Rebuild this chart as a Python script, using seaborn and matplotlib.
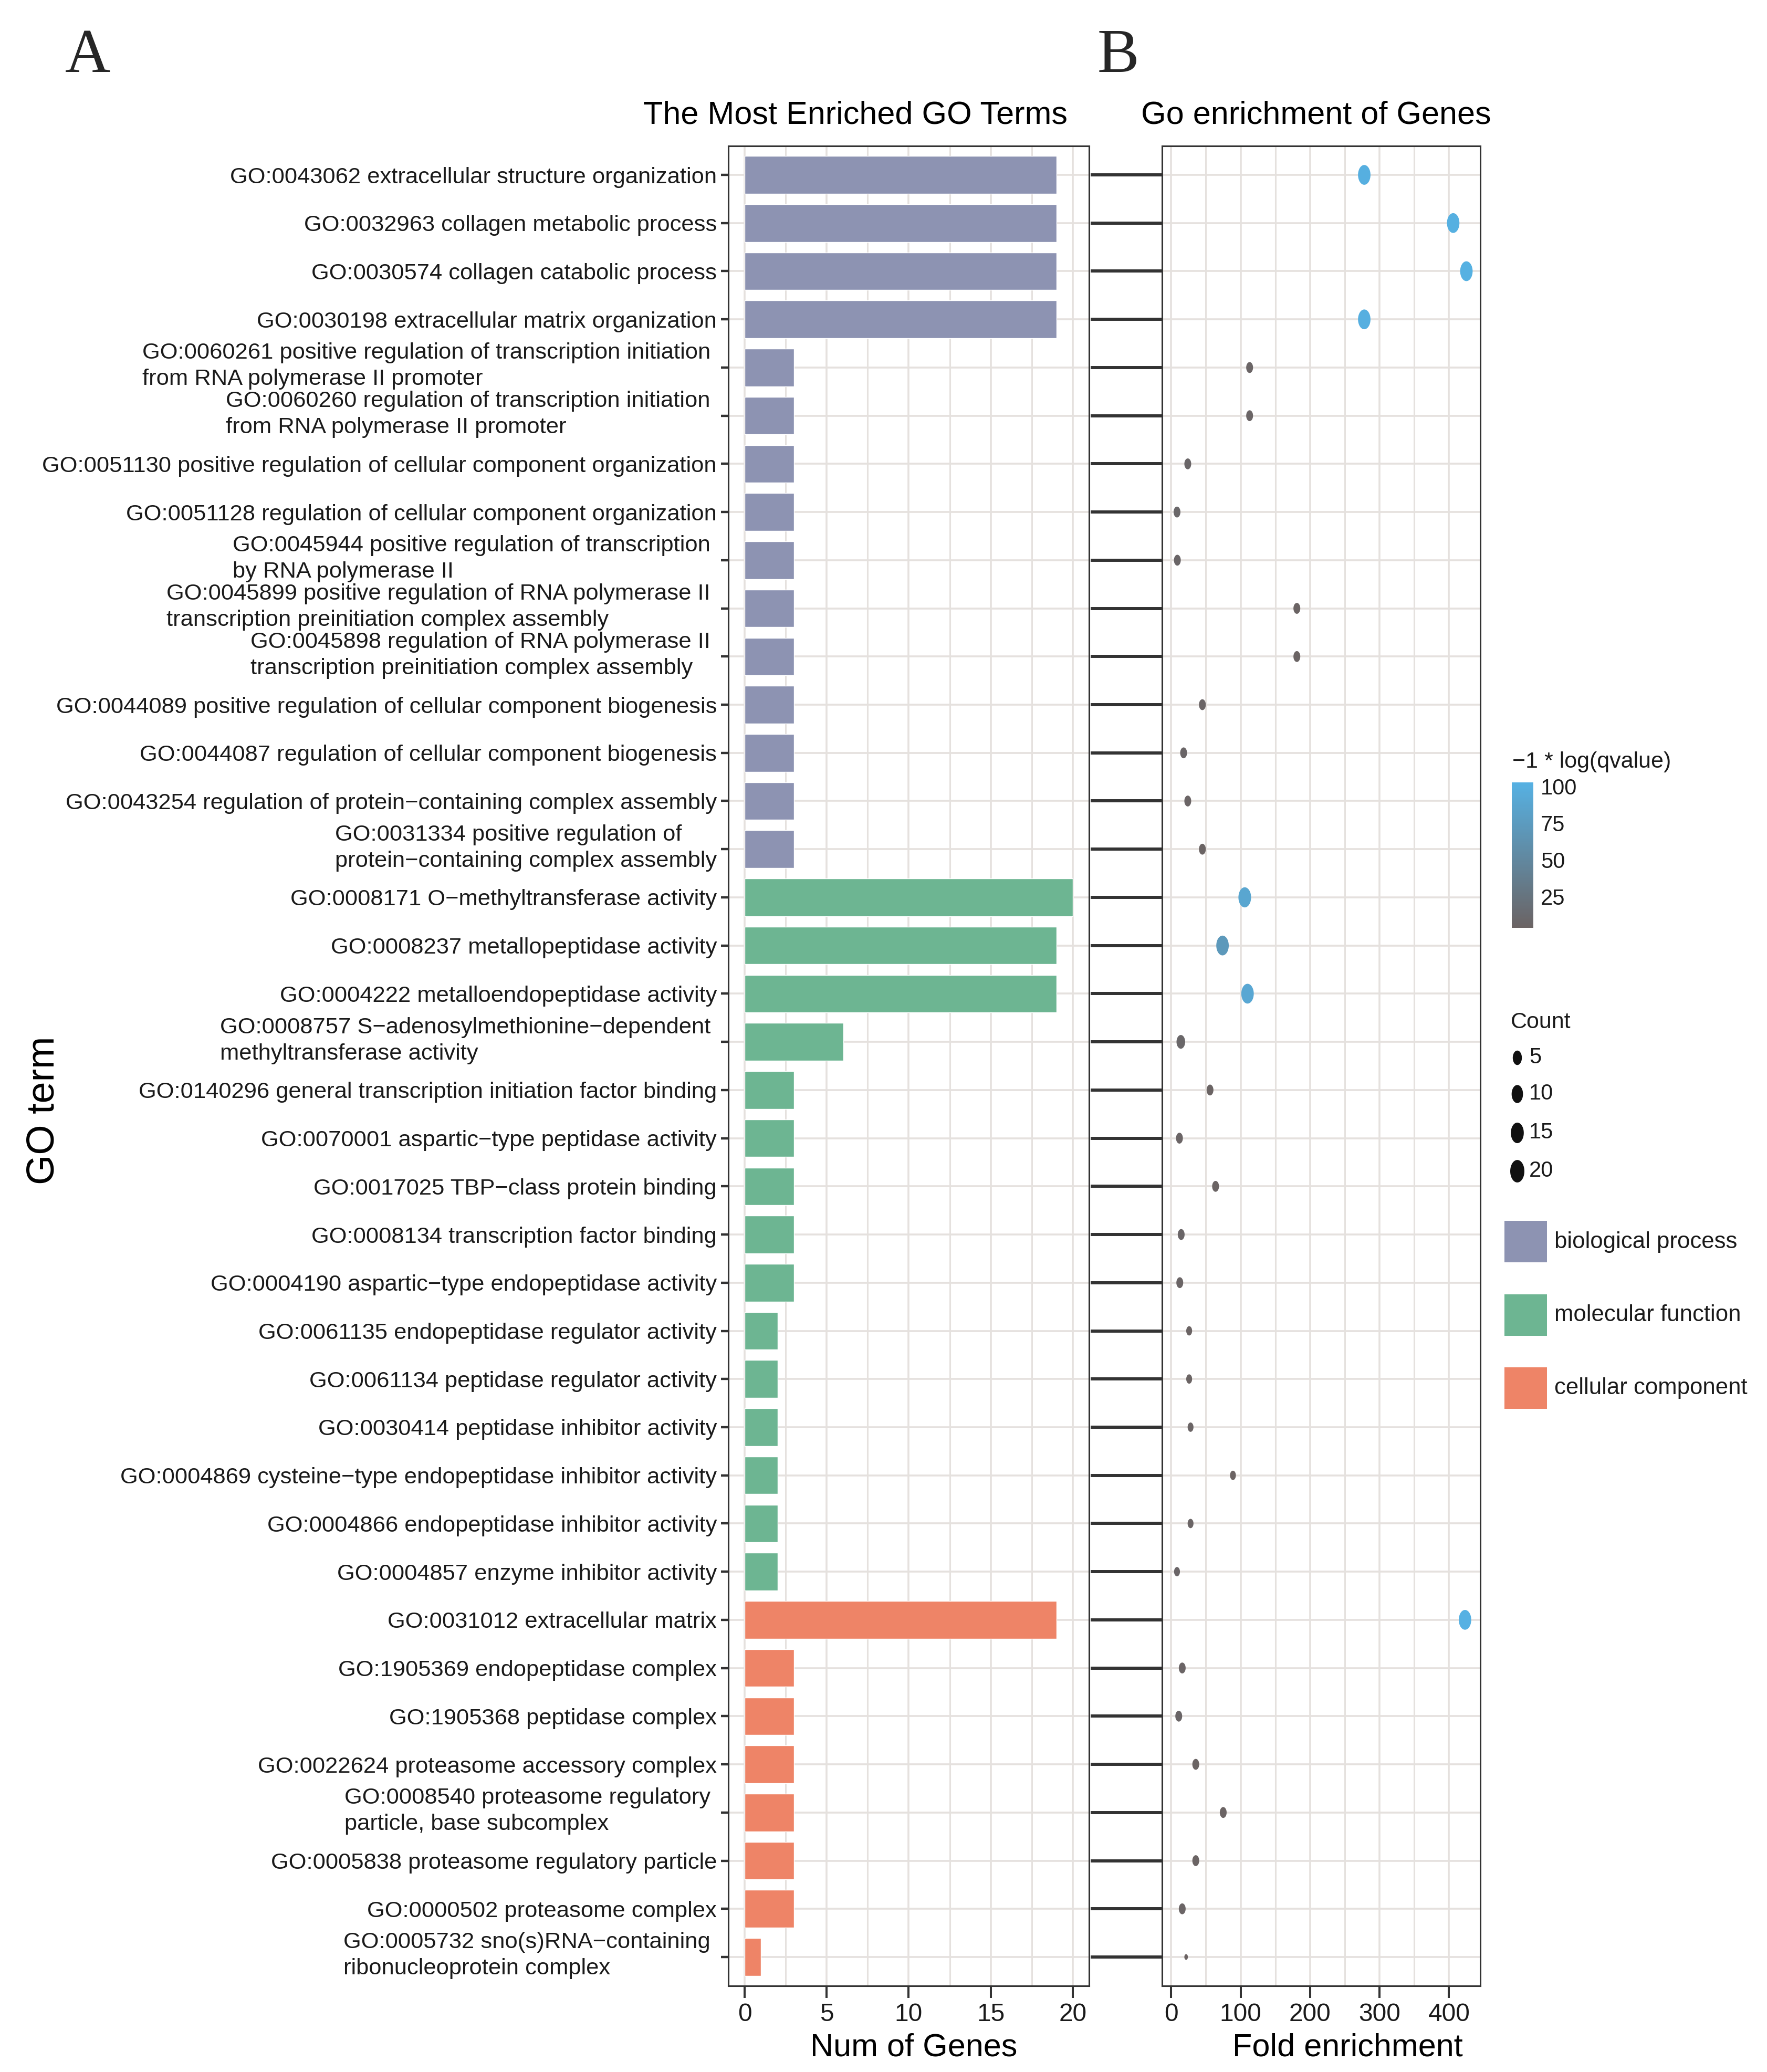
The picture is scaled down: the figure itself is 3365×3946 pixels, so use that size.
import numpy as np
import pandas as pd
import matplotlib
matplotlib.use('Agg')
import matplotlib as mpl
import matplotlib.pyplot as plt
import matplotlib.transforms as mtransforms
import seaborn as sns
from matplotlib.colors import LinearSegmentedColormap, Normalize, PowerNorm
from matplotlib.path import Path
from matplotlib.patches import Rectangle

# GO terms, top to bottom
terms = [
    'GO:0043062 extracellular structure organization',
    'GO:0032963 collagen metabolic process',
    'GO:0030574 collagen catabolic process',
    'GO:0030198 extracellular matrix organization',
    'GO:0060261 positive regulation of transcription initiation \nfrom RNA polymerase II promoter',
    'GO:0060260 regulation of transcription initiation \nfrom RNA polymerase II promoter',
    'GO:0051130 positive regulation of cellular component organization',
    'GO:0051128 regulation of cellular component organization',
    'GO:0045944 positive regulation of transcription \nby RNA polymerase II',
    'GO:0045899 positive regulation of RNA polymerase II \ntranscription preinitiation complex assembly',
    'GO:0045898 regulation of RNA polymerase II \ntranscription preinitiation complex assembly',
    'GO:0044089 positive regulation of cellular component biogenesis',
    'GO:0044087 regulation of cellular component biogenesis',
    'GO:0043254 regulation of protein\u2212containing complex assembly',
    'GO:0031334 positive regulation of \nprotein\u2212containing complex assembly',
    'GO:0008171 O\u2212methyltransferase activity',
    'GO:0008237 metallopeptidase activity',
    'GO:0004222 metalloendopeptidase activity',
    'GO:0008757 S\u2212adenosylmethionine\u2212dependent \nmethyltransferase activity',
    'GO:0140296 general transcription initiation factor binding',
    'GO:0070001 aspartic\u2212type peptidase activity',
    'GO:0017025 TBP\u2212class protein binding',
    'GO:0008134 transcription factor binding',
    'GO:0004190 aspartic\u2212type endopeptidase activity',
    'GO:0061135 endopeptidase regulator activity',
    'GO:0061134 peptidase regulator activity',
    'GO:0030414 peptidase inhibitor activity',
    'GO:0004869 cysteine\u2212type endopeptidase inhibitor activity',
    'GO:0004866 endopeptidase inhibitor activity',
    'GO:0004857 enzyme inhibitor activity',
    'GO:0031012 extracellular matrix',
    'GO:1905369 endopeptidase complex',
    'GO:1905368 peptidase complex',
    'GO:0022624 proteasome accessory complex',
    'GO:0008540 proteasome regulatory \nparticle, base subcomplex',
    'GO:0005838 proteasome regulatory particle',
    'GO:0000502 proteasome complex',
    'GO:0005732 sno(s)RNA\u2212containing \nribonucleoprotein complex',
]

ontology = [
    'BP', 'BP', 'BP', 'BP', 'BP', 'BP', 'BP', 'BP', 'BP', 'BP', 'BP', 'BP', 'BP', 'BP', 'BP',
    'MF', 'MF', 'MF', 'MF', 'MF', 'MF', 'MF', 'MF', 'MF', 'MF', 'MF', 'MF', 'MF', 'MF', 'MF',
    'CC', 'CC', 'CC', 'CC', 'CC', 'CC', 'CC', 'CC',
]

num_genes = [19, 19, 19, 19, 3, 3, 3, 3, 3, 3, 3, 3, 3, 3, 3,
             20, 19, 19, 6, 3, 3, 3, 3, 3, 2, 2, 2, 2, 2, 2,
             19, 3, 3, 3, 3, 3, 3, 1]

fold_enrichment = [278, 406, 425, 278, 113, 113, 24, 8.5, 9, 181, 181, 45, 18, 24, 45,
                   106, 74, 110, 14, 56, 12, 64, 14.5, 12.5, 26, 26, 28, 89, 28, 8.5,
                   423, 16, 11, 35.5, 75, 35.5, 16, 21.6]

neg_log_q = [100, 101, 102, 100, 6, 6, 8, 9, 7, 5, 5, 6, 7, 6, 5,
             88, 72, 90, 9, 5, 6, 5, 7, 6, 5, 5, 6, 4, 6, 7,
             102.5, 6, 7, 5, 5, 5, 6, 4]

ont_names = {'BP': 'biological process', 'MF': 'molecular function', 'CC': 'cellular component'}
ont_colors = {'biological process': '#8D93B2', 'molecular function': '#6DB592',
              'cellular component': '#EE8467'}

df = pd.DataFrame({'term': terms, 'ontology': [ont_names[o] for o in ontology],
                   'genes': num_genes, 'fold': fold_enrichment, 'qval': neg_log_q})

W, H = 3366, 3946


def rect(l, t, r, b):
    return [l / W, 1 - b / H, (r - l) / W, (b - t) / H]


sns.set_style('white')
plt.rcParams['font.family'] = ['Liberation Sans', 'DejaVu Sans']

fig = plt.figure(figsize=(W / 100, H / 100), dpi=100)
axA = fig.add_axes(rect(1387, 278, 2074, 3782))
axB = fig.add_axes(rect(2213, 278, 2819, 3782))

grid_col = '#E5E1DE'
edge_col = '#333333'
txt_col = '#1a1a1a'

# Panel A: bar chart
sns.barplot(data=df, x='genes', y='term', hue='ontology', palette=ont_colors,
            dodge=False, width=0.78, saturation=1, errorbar=None, legend=False, ax=axA)
axA.set_xlim(-1, 21)
axA.set_ylim(len(terms) - 0.4, -0.6)
axA.set_xticks([0, 5, 10, 15, 20])
axA.set_xticks([2.5, 7.5, 12.5, 17.5], minor=True)

# Panel B: dot plot (ellipse markers, size scaled like ggplot's area scale)
cmap = LinearSegmentedColormap.from_list('q', ['#6B6363', '#56B1E3'])
qnorm = Normalize(4, 102.5)
snorm = PowerNorm(gamma=0.65, vmin=1, vmax=20)
theta = np.linspace(0, 2 * np.pi, 80)
ellipse = Path(np.column_stack([0.63 * np.sin(theta), np.cos(theta)]))
s_lo, s_hi = 60, 760
sns.scatterplot(data=df, x='fold', y='term', hue='qval', palette=cmap, hue_norm=qnorm,
                size='genes', sizes=(s_lo, s_hi), size_norm=snorm, marker=ellipse,
                linewidth=0, legend=False, ax=axB, zorder=3)
axB.set_xlim(-13, 445)
axB.set_ylim(len(terms) - 0.4, -0.6)
axB.set_xticks([0, 100, 200, 300, 400])
axB.set_xticks([50, 150, 250, 350], minor=True)
axB.set_yticks(range(len(terms)))
axB.set_yticklabels([])

for ax in (axA, axB):
    ax.set_axisbelow(True)
    ax.grid(which='major', axis='both', color=grid_col, lw=2.6)
    ax.grid(which='minor', axis='x', color=grid_col, lw=2.2)
    for sp in ax.spines.values():
        sp.set_visible(True)
        sp.set_color(edge_col)
        sp.set_linewidth(2.2)
    ax.set_xlabel('')
    ax.set_ylabel('')
    ax.tick_params(axis='x', which='major', length=16.5, width=2.9, color=edge_col,
                   labelsize=34.5, labelcolor=txt_col, pad=6.5, bottom=True)
    ax.tick_params(axis='x', which='minor', length=0)

axA.tick_params(axis='y', length=10, width=3.2, color=edge_col, labelsize=31.3,
                labelcolor=txt_col, pad=5.8, left=True)
lift = mtransforms.ScaledTranslation(0, 0.12, fig.dpi_scale_trans)
for lbl in axA.get_yticklabels():
    lbl.set_multialignment('left')
    lbl.set_linespacing(1.32)
    if '\n' in lbl.get_text():
        lbl.set_transform(lbl.get_transform() + lift)
axB.tick_params(axis='y', length=98, width=4.3, color=edge_col, left=True)

# titles and axis labels
def ptext(x, y, s, **kw):
    fig.text(x / W, 1 - y / H, s, **kw)


ptext(1629, 235, 'The Most Enriched GO Terms', ha='center', va='baseline', fontsize=44, color='black')
ptext(2506, 235, 'Go enrichment of Genes', ha='center', va='baseline', fontsize=44, color='black')
ptext(1740, 3915, 'Num of Genes', ha='center', va='baseline', fontsize=44, color='black')
ptext(2566, 3915, 'Fold enrichment', ha='center', va='baseline', fontsize=44, color='black')
ptext(83, 2115, 'GO term', ha='center', va='center', rotation=90, fontsize=53, color='black')
ptext(124, 137, 'A', ha='left', va='baseline', fontsize=86, family='Liberation Serif')
ptext(2090, 137, 'B', ha='left', va='baseline', fontsize=86, family='Liberation Serif')

# colour bar legend
ptext(2880, 1462, '\u22121 * log(qvalue)', ha='left', va='baseline', fontsize=31, color=txt_col)
cax = fig.add_axes(rect(2879, 1490, 2920, 1767))
cb = mpl.colorbar.ColorbarBase(cax, cmap=cmap, norm=qnorm, ticks=[25, 50, 75, 100])
cb.outline.set_visible(False)
cax.tick_params(axis='y', direction='in', length=5, width=1.5, color='white',
                labelsize=30, labelcolor=txt_col, pad=10)

# overlay for the other legends
ov = fig.add_axes([0, 0, 1, 1])
ov.set_xlim(0, W)
ov.set_ylim(H, 0)
ov.axis('off')
ov.patch.set_alpha(0)

ptext(2877, 1958, 'Count', ha='left', va='baseline', fontsize=31, color=txt_col)
count_levels = [5, 10, 15, 20]
count_y = [2014, 2083, 2157, 2230]
for c, y in zip(count_levels, count_y):
    s = (s_lo + float(snorm(c)) * (s_hi - s_lo)) * 1.25
    ov.scatter([2889], [y], s=s, marker=ellipse, color='#111111', linewidth=0)
    ptext(2912, y, str(c), ha='left', va='center', fontsize=30, color=txt_col)

fill_y = [2325, 2465, 2604]
for name, y in zip(['biological process', 'molecular function', 'cellular component'], fill_y):
    ov.add_patch(Rectangle((2865, y), 81, 79, facecolor=ont_colors[name], edgecolor='none'))
    ptext(2960, y + 40, name, ha='left', va='center', fontsize=31.5, color=txt_col)

fig.savefig('out.png', dpi=100, facecolor='white')
